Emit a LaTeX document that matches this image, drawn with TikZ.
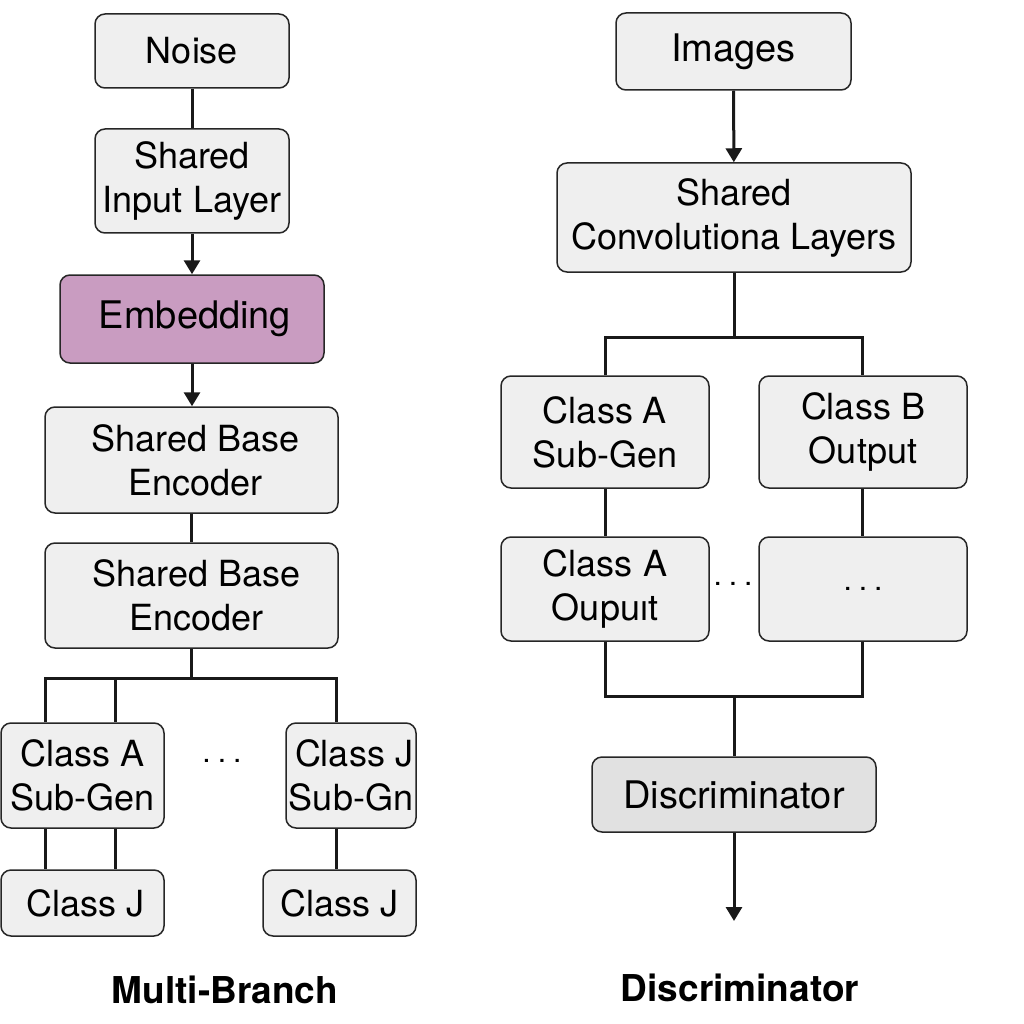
\documentclass[tikz,border=0pt]{standalone}
\usepackage{fontspec}
\setmainfont{TeX Gyre Heros}
\usetikzlibrary{arrows.meta}
\definecolor{boxgray}{HTML}{EFEFEF}
\definecolor{discgray}{HTML}{E1E1E1}
\definecolor{embpurple}{HTML}{C99CC1}
\newcommand{\mydots}{\makebox{.\hspace{7pt}.\hspace{7pt}.}}
\begin{document}
\begin{tikzpicture}[x=1pt,y=-1pt,
  box/.style={draw=black!85, line width=1.5pt, rounded corners=10pt, fill=boxgray,
    inner sep=0pt, align=center, font=\fontsize{36}{44}\selectfont},
  conn/.style={line width=3pt, draw=black!90},
  arr/.style={conn, -{Triangle[width=16pt,length=14pt]}},
  dots/.style={font=\fontsize{30}{36}\selectfont},
  title/.style={font=\fontsize{37}{44}\selectfont\bfseries}]
\useasboundingbox (0,0) rectangle (1024,1024);
% ---------- left: Multi-Branch ----------
\node[box, minimum width=194, minimum height=74] (noise) at (192,51) {Noise};
\node[box, minimum width=194, minimum height=104] (sil) at (192,181) {Shared\\Input Layer};
\node[box, fill=embpurple, minimum width=264, minimum height=88, font=\fontsize{38}{44}\selectfont] (emb) at (192,319) {\hspace{6pt}Embedding};
\node[box, minimum width=293, minimum height=106] (sbe1) at (191.5,460) {\hspace{8pt}Shared Base\\\hspace{8pt}Encoder};
\node[box, minimum width=293, minimum height=105] (sbe2) at (191.5,595.5) {\hspace{10pt}Shared Base\\\hspace{10pt}Encoder};
\node[box, minimum width=163, minimum height=105] (cA) at (82.5,775.5) {Class A\\Sub-Gen};
\node[box, minimum width=130, minimum height=105] (cJs) at (351,775.5) {\hspace{6pt}Class J\\Sub-Gn};
\node[box, minimum width=163, minimum height=66] (cJ1) at (82.5,903) {\hspace{6pt}Class J};
\node[box, minimum width=153, minimum height=66] (cJ2) at (339.5,903) {Class J};
\node[dots] (ldots) at (222,761) {\mydots};
\node[title] (t1) at (225,990) {Multi-Branch};

\coordinate (lbus) at (192,678);
\coordinate (lb1) at (45,678);
\coordinate (lb2) at (115,678);
\coordinate (lb3) at (336,678);

\draw[conn] (noise) -- (sil);
\draw[arr] (sil) -- (emb);
\draw[arr] (emb.south) -- (emb.south |- sbe1.north);
\draw[conn] (sbe1.south) -- (sbe1.south |- sbe2.north);
\draw[conn] (sbe2.south) -- (sbe2.south |- lbus);
\draw[conn] (lb1 |- cA.north) -- (lb1) -- (lb3) -- (lb3 |- cJs.north);
\draw[conn] (lb2) -- (lb2 |- cA.north);
\draw[conn] (lb1 |- cA.south) -- (lb1 |- cJ1.north);
\draw[conn] (lb2 |- cA.south) -- (lb2 |- cJ1.north);
\draw[conn] (lb3 |- cJs.south) -- (lb3 |- cJ2.north);

% ---------- right: Discriminator ----------
\node[box, minimum width=235, minimum height=77, font=\fontsize{38}{44}\selectfont] (img) at (733.5,51.5) {Images};
\node[box, minimum width=354, minimum height=109] (scl) at (734,217.5) {Shared\\Convolutiona Layers};
\node[box, minimum width=208, minimum height=112] (rA) at (605,432) {Class A\\Sub-Gen};
\node[box, minimum width=208, minimum height=112] (rB) at (863,432) {Class B\\Output};
\node[box, minimum width=208, minimum height=104] (rAo) at (605,589) {Class A\\Oupuıt};
\node[box, minimum width=208, minimum height=104, font=\fontsize{30}{36}\selectfont] (rD) at (863,589) {\mydots};
\node[dots] (mdots) at (733,584) {\mydots};
\node[box, fill=discgray, minimum width=284, minimum height=75, font=\fontsize{38}{44}\selectfont] (disc) at (734,794.5) {Discriminator};
\node[title] (t2) at (740,988) {Discriminator};

\coordinate (rbus) at (734,337);
\coordinate (rb1) at (605,337);
\coordinate (rb2) at (862,337);
\coordinate (rjoin) at (734,696);
\coordinate (rj1) at (605,696);
\coordinate (rj2) at (862,696);
\coordinate (rend) at (734,921);

\draw[arr] (img) -- (scl);
\draw[conn] (scl.south) -- (rbus);
\draw[conn] (rb1 |- rA.north) -- (rb1) -- (rb2) -- (rb2 |- rB.north);
\draw[conn] (rb1 |- rA.south) -- (rb1 |- rAo.north);
\draw[conn] (rb2 |- rB.south) -- (rb2 |- rD.north);
\draw[conn] (rj1 |- rAo.south) -- (rj1) -- (rj2) -- (rj2 |- rD.south);
\draw[conn] (rjoin) -- (rjoin |- disc.north);
\draw[arr] (disc.south) -- (rend);
\end{tikzpicture}
\end{document}
